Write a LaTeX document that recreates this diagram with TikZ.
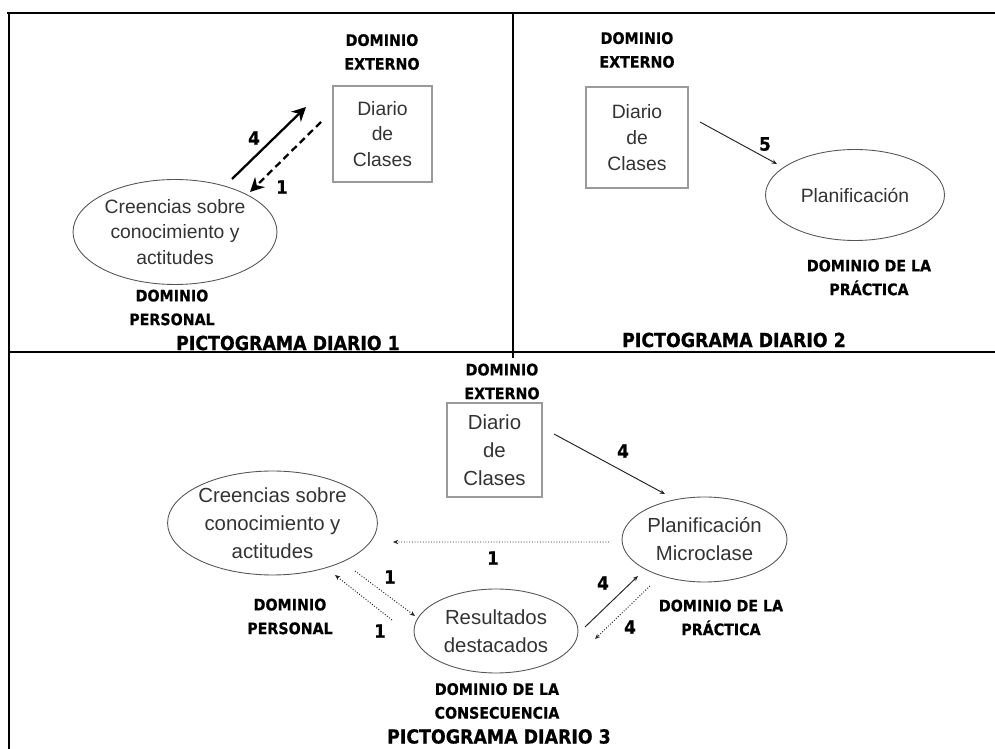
\documentclass[tikz,border=0pt]{standalone}
\usepackage{fontspec}
\setmainfont{Liberation Sans}
\newfontfamily\domfont[FakeBold=0.6]{DejaVu Sans Condensed Bold}
\usetikzlibrary{shapes.geometric,arrows.meta,calc}

\definecolor{txtgray}{HTML}{333333}
\definecolor{boxgray}{HTML}{9A9A9A}
\definecolor{ellgray}{HTML}{555555}

\tikzset{
  txt/.style={text=txtgray, align=center, inner sep=0pt, font=\fontsize{11}{14.7}\selectfont},
  txtb/.style={txt, font=\fontsize{11.6}{15.9}\selectfont},
  diario/.style={draw=boxgray, line width=0.6pt},
  creencia/.style={ellipse, draw=ellgray, line width=0.5pt},
  dominio/.style={align=center, inner sep=0pt, font=\domfont\fontsize{9}{13.5}\selectfont},
  titulo/.style={inner sep=0pt, font=\domfont\fontsize{11}{12}\selectfont},
  cifra/.style={inner sep=0pt, font=\domfont\fontsize{10.5}{12}\selectfont},
  gruesa/.style={-{Stealth[length=8pt,width=8pt]}, line width=1.3pt},
  fina/.style={-{Stealth[length=3pt,width=2.5pt]}, line width=0.55pt, draw=black!85},
  punteada/.style={fina, densely dotted},
  marco/.style={line width=1.6pt}
}

\begin{document}
\begin{tikzpicture}[x=0.02cm,y=-0.02cm]
\useasboundingbox (0,0) rectangle (995,749);

% marco
\draw[marco] (7,13) -- (995,13);
\draw[marco] (9,13) -- (9,749);
\draw[marco] (9,352) -- (995,352);
\draw[marco] (513,13) -- (513,358);

% pictograma 1
\node[dominio] (ext1) at (382,52) {DOMINIO\\EXTERNO};
\node[txt,diario,minimum width=1.98cm,minimum height=1.92cm] (dia1) at (382.5,134) {Diario\\de\\Clases};
\node[txt,creencia,minimum width=4.08cm,minimum height=2.1cm] (cre1) at (175,232) {Creencias sobre\\conocimiento y\\actitudes};
\node[dominio] (per1) at (172,307.5) {DOMINIO\\PERSONAL};
\node[titulo] (tit1) at (288,343) {PICTOGRAMA DIARIO 1};
\draw[gruesa] ($(cre1)+(57,-53)$) -- ($(dia1)+(-76.5,-27)$);
\draw[gruesa,dash pattern=on 4pt off 2.5pt] ($(dia1)+(-61.5,-12)$) -- ($(cre1)+(75,-40)$);
\node[cifra] (c4a) at (254,138) {4};
\node[cifra] (c1a) at (282,187) {1};

% pictograma 2
\node[dominio] (ext2) at (637,50) {DOMINIO\\EXTERNO};
\node[txt,diario,minimum width=2.04cm,minimum height=2.02cm] (dia2) at (637,137.5) {Diario\\de\\Clases};
\node[txt,creencia,minimum width=3.58cm,minimum height=1.82cm] (pla2) at (855,195) {Planificación};
\node[dominio] (pra2) at (869,277.5) {DOMINIO DE LA\\PRÁCTICA};
\node[titulo] (tit2) at (734,340) {PICTOGRAMA DIARIO 2};
\draw[fina] ($(dia2)+(63,-15.5)$) -- ($(pla2)+(-78,-31)$);
\node[cifra] (c5b) at (765,144) {5};

% pictograma 3
\node[dominio] (ext3) at (502,381.5) {DOMINIO\\EXTERNO};
\node[txtb,diario,minimum width=1.9cm,minimum height=1.88cm] (dia3) at (494.5,450) {Diario\\de\\Clases};
\node[txtb,creencia,minimum width=4.06cm,minimum height=2.08cm] (cre3) at (272.5,523) {Creencias sobre\\conocimiento y\\actitudes};
\node[txtb,creencia,minimum width=3.3cm,minimum height=1.7cm] (pla3) at (704.5,539.5) {Planificación\\Microclase};
\node[txtb,creencia,minimum width=3.28cm,minimum height=1.68cm] (res3) at (496,631) {Resultados\\destacados};
\node[dominio] (per3) at (290,616.5) {DOMINIO\\PERSONAL};
\node[dominio] (pra3) at (721,617.5) {DOMINIO DE LA\\PRÁCTICA};
\node[dominio] (con3) at (497,701) {DOMINIO DE LA\\CONSECUENCIA};
\node[titulo] (tit3) at (499,736.5) {PICTOGRAMA DIARIO 3};

\draw[fina] ($(dia3)+(59.5,-16)$) -- ($(pla3)+(-39.5,-45.5)$);
\draw[punteada] ($(pla3)+(-95.5,2.5)$) -- ($(cre3)+(120.5,19)$);
\draw[punteada] ($(cre3)+(82.5,48)$) -- ($(res3)+(-81,-15)$);
\draw[punteada] ($(res3)+(-104,-11)$) -- ($(cre3)+(62.5,52)$);
\draw[fina] ($(res3)+(89,-4)$) -- ($(pla3)+(-66.5,36.5)$);
\draw[punteada] ($(pla3)+(-54.5,46.5)$) -- ($(res3)+(99,8)$);
\node[cifra] (c4c) at (623,451) {4};
\node[cifra] (c1c) at (493,558) {1};
\node[cifra] (c1d) at (390,577) {1};
\node[cifra] (c1e) at (380,631) {1};
\node[cifra] (c4d) at (603,583) {4};
\node[cifra] (c4e) at (630,627) {4};
\end{tikzpicture}
\end{document}
